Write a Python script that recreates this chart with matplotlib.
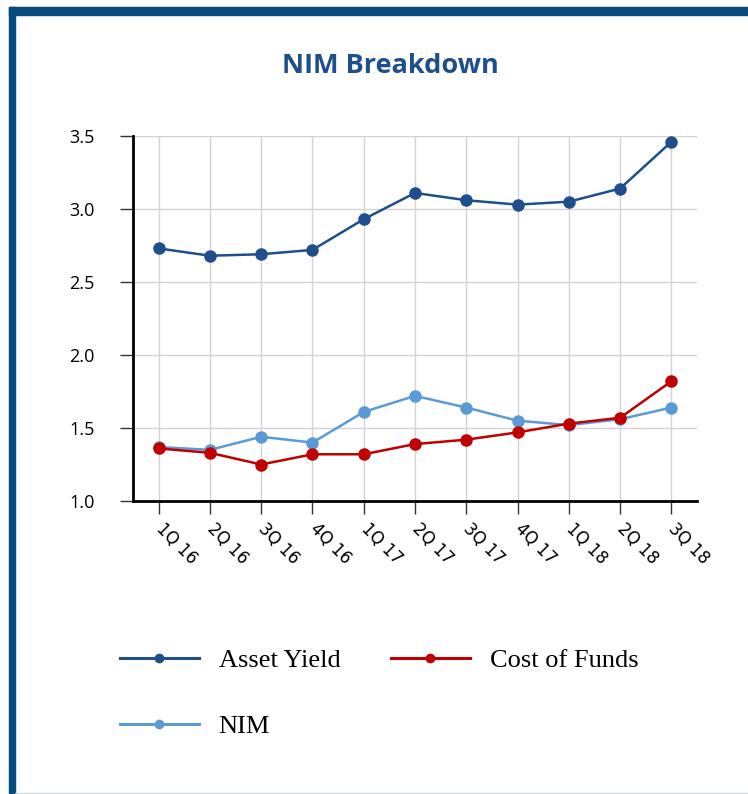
import matplotlib.pyplot as plt
from matplotlib.patches import Rectangle

# NIM breakdown data
quarters = ["1Q 16", "2Q 16", "3Q 16", "4Q 16", "1Q 17", "2Q 17",
            "3Q 17", "4Q 17", "1Q 18", "2Q 18", "3Q 18"]
asset_yield = [2.73, 2.68, 2.69, 2.72, 2.93, 3.11, 3.06, 3.03, 3.05, 3.14, 3.46]
cost_of_funds = [1.36, 1.33, 1.25, 1.32, 1.32, 1.39, 1.42, 1.47, 1.53, 1.57, 1.82]
nim = [1.37, 1.35, 1.44, 1.40, 1.61, 1.72, 1.64, 1.55, 1.52, 1.56, 1.64]
y_ticks = [1.0, 1.5, 2.0, 2.5, 3.0, 3.5]

dark_blue = "#1F4E8C"
red = "#C00000"
light_blue = "#5B9BD5"
frame_blue = "#064A7E"

W, H = 748, 794
fig = plt.figure(figsize=(W / 100, H / 100), dpi=100)

# frame around the panel
fig.patches.append(Rectangle((9 / W, 0), 6 / W, (H - 7) / H, transform=fig.transFigure,
                             color=frame_blue, zorder=0))
fig.patches.append(Rectangle((9 / W, 1 - 15 / H), 1 - 9 / W, 8 / H, transform=fig.transFigure,
                             color=frame_blue, zorder=0))
fig.patches.append(Rectangle((15 / W, 0), 1, 1.5 / H, transform=fig.transFigure,
                             color="#D0D8E0", zorder=0))

fig.text(390 / W, 1 - 66 / H, "NIM Breakdown", ha="center", va="center",
         fontsize=19.5, fontweight="bold", color=dark_blue, family="Open Sans")

ax = fig.add_axes([133 / W, 1 - 501 / H, (697 - 133) / W, (501 - 136) / H])
x = list(range(len(quarters)))

l1, = ax.plot(x, asset_yield, color=dark_blue, lw=1.8, marker="o", ms=8, label="Asset Yield")
l3, = ax.plot(x, nim, color=light_blue, lw=1.8, marker="o", ms=8, label="NIM")
l2, = ax.plot(x, cost_of_funds, color=red, lw=1.8, marker="o", ms=8, label="Cost of Funds")

ax.set_xlim(-0.5, len(quarters) - 0.5)
ax.set_ylim(1.0, 3.5)
ax.set_yticks(y_ticks)
ax.set_yticklabels([f"{v:.1f}" for v in y_ticks], family="Open Sans", fontsize=13)
ax.set_xticks(x)
ax.set_xticklabels(quarters, rotation=-45, ha="left", va="center",
                   rotation_mode="anchor", fontsize=12)
ax.tick_params(axis="x", length=9, width=1, pad=9, color="#333333")
ax.tick_params(axis="y", length=9.5, width=1, pad=18, color="#333333")

ax.grid(True, color="#D3D3D3", lw=1)
ax.set_axisbelow(True)
for s in ["top", "right"]:
    ax.spines[s].set_visible(False)
for s in ["left", "bottom"]:
    ax.spines[s].set_linewidth(2)
    ax.spines[s].set_color("black")

# column-major fill: Asset Yield / NIM in first column, Cost of Funds in second
leg = fig.legend([l1, l3, l2], ["Asset Yield", "NIM", "Cost of Funds"], ncol=2,
                 loc="upper left", bbox_to_anchor=(96 / W, 1 - 625 / H), frameon=False,
                 prop={"family": "Liberation Serif", "size": 19},
                 handlelength=3.0, handletextpad=0.75, columnspacing=1.9,
                 labelspacing=1.6, markerscale=0.75)
for ln in leg.get_lines():
    ln.set_linewidth(2.2)

fig.savefig("out.png", dpi=100)
